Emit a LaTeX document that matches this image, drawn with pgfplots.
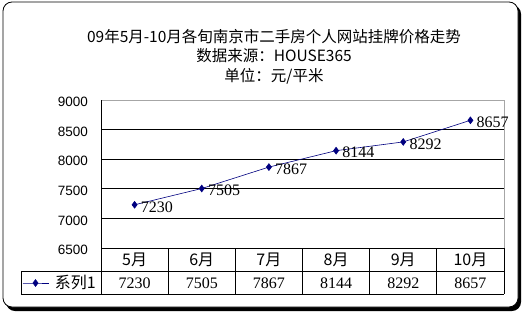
\documentclass[border=0pt]{standalone}
\usepackage{fontspec}
\setmainfont{Noto Sans CJK SC}
\newfontfamily\lsans{Liberation Sans}
\newfontfamily\lserif{Liberation Serif}
\usepackage{pgfplots}
\pgfplotsset{compat=1.18}
\definecolor{navy}{HTML}{000080}
\begin{document}
\begin{tikzpicture}[x=1pt,y=1pt]
\path[use as bounding box] (0,0) rectangle (526,314);
\fill[black, rounded corners=9pt] (6,3) rectangle (521,309);
\filldraw[fill=white, draw=black, line width=0.8pt, rounded corners=9pt] (3,7) rectangle (518,312);
\node[align=center, font=\fontsize{15.5}{19.5}\selectfont] at (274,257.5) {09年5月-10月各旬南京市二手房个人网站挂牌价格走势\\数据来源：HOUSE365\\单位：元/平米};
\begin{axis}[at={(101pt,66pt)}, anchor=south west, scale only axis,
  width=403pt, height=148pt,
  xmin=-0.5, xmax=5.5, ymin=6500, ymax=9000,
  xtick=\empty,
  ytick={7000,7500,8000,8500},
  extra y ticks={6500,9000},
  extra y tick style={grid=none},
  ymajorgrids,
  major grid style={black, line width=0.9pt},
  axis line style={draw=gray!70, line width=0.8pt},
  major tick length=0pt,
  /pgf/number format/assume math mode=true,
  /pgf/number format/1000 sep={},
  scaled y ticks=false,
  yticklabel style={font=\lsans\fontsize{13.5}{14}\selectfont, inner sep=0pt, xshift=-13pt, yshift=-2pt},
  clip=false,
  legend style={at={(-0.196,-0.2365)}, anchor=west, draw=none, fill=none, inner sep=0pt, font=\fontsize{16}{16}\selectfont,
    /tikz/every odd column/.append style={column sep=4pt}},
  legend image code/.code={\draw[mark repeat=2,mark phase=2,#1] plot coordinates {(0pt,0pt) (13pt,0pt) (26pt,0pt)};},
]
\addplot[navy, line width=0.6pt, mark=diamond*, mark size=3.4pt, mark options={solid, fill=navy},
  nodes near coords, nodes near coords style={anchor=west, font=\lserif\fontsize{16}{16}\selectfont, text=black, xshift=5pt, yshift=-2pt, inner sep=1pt}]
  coordinates {(0,7230) (1,7505) (2,7867) (3,8144) (4,8292) (5,8657)};
\addlegendentry{系列1}
\end{axis}
% data table
\draw[black, line width=0.8pt] (101,214) -- (101,20);
\draw[black, line width=0.8pt] (101,66) -- (504,66);
\draw[black, line width=0.8pt] (21,42.5) -- (504,42.5);
\draw[black, line width=0.8pt] (21,20) -- (504,20);
\draw[black, line width=0.8pt] (21,42.5) -- (21,20);
\foreach \xx in {168.2,235.3,302.5,369.7,436.8,504} {\draw[black, line width=0.8pt] (\xx,66) -- (\xx,20);}
\foreach \xx/\m/\v in {134.6/5月/7230, 201.8/6月/7505, 268.9/7月/7867, 336.1/8月/8144, 403.3/9月/8292, 470.4/10月/8657} {
  \node[font=\fontsize{16}{16}\selectfont] at (\xx,54) {\m};
  \node[font=\lserif\fontsize{16}{16}\selectfont] at (\xx,31) {\v};
}
\end{tikzpicture}
\end{document}
